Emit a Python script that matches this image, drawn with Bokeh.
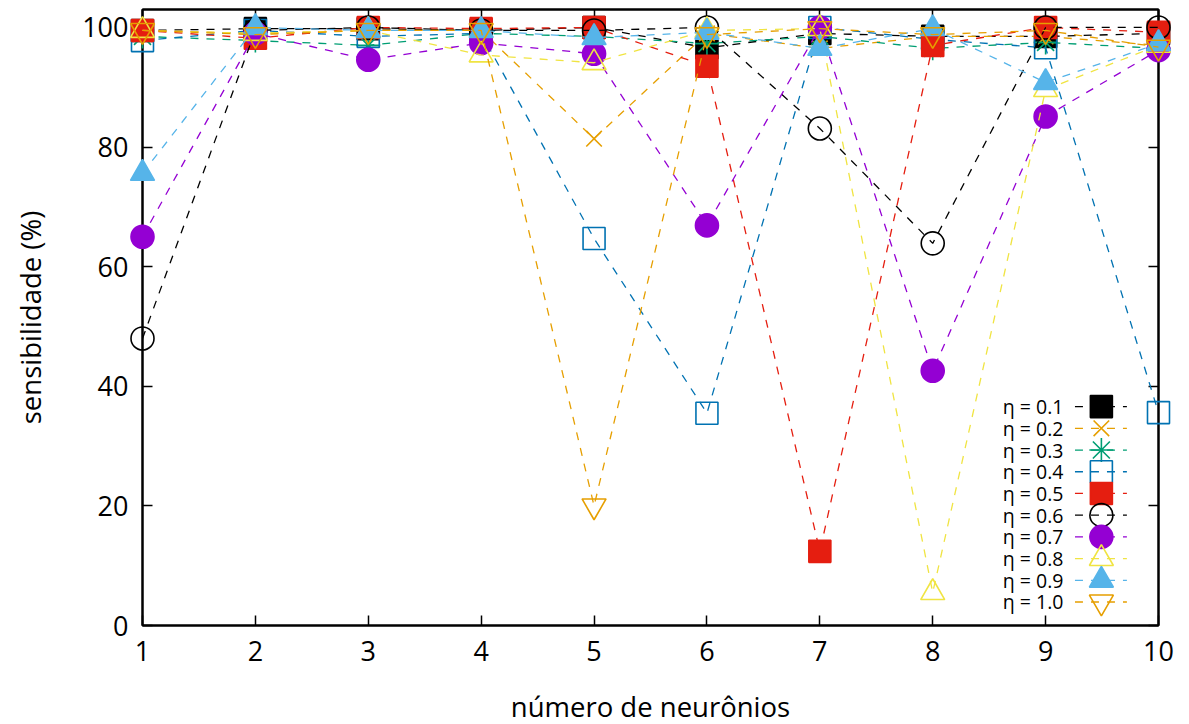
from bokeh.plotting import figure
from bokeh.models import LinearAxis, FixedTicker, Range1d
from bokeh.core.properties import value
from bokeh.embed import file_html
from bokeh.resources import INLINE

neurons = [1, 2, 3, 4, 5, 6, 7, 8, 9, 10]
labels = ["η = 0.1", "η = 0.2", "η = 0.3", "η = 0.4", "η = 0.5",
          "η = 0.6", "η = 0.7", "η = 0.8", "η = 0.9", "η = 1.0"]
eta_01 = [99.5, 99.8, 99.8, 99.5, 100.0, 96.6, 99.0, 98.5, 98.5, 99.0]
eta_02 = [99.5, 99.0, 99.5, 99.5, 81.4, 99.0, 96.5, 98.5, 98.5, 97.0]
eta_03 = [98.5, 97.8, 97.0, 99.0, 98.5, 97.3, 98.5, 96.5, 97.5, 96.5]
eta_04 = [97.8, 99.5, 98.5, 99.0, 64.7, 35.5, 100.0, 98.0, 96.6, 35.6]
eta_05 = [99.5, 98.2, 100.0, 99.8, 100.0, 93.5, 12.4, 97.0, 100.0, 99.2]
eta_06 = [48.0, 99.5, 100.0, 99.5, 99.5, 100.0, 83.1, 63.9, 100.0, 100.0]
eta_07 = [65.0, 99.0, 94.6, 97.4, 95.6, 66.9, 100.0, 42.6, 85.1, 96.2]
eta_08 = [99.5, 99.0, 99.5, 95.4, 94.1, 99.5, 99.8, 5.5, 89.6, 97.0]
eta_09 = [75.6, 100.0, 99.5, 99.5, 98.3, 99.2, 96.5, 99.8, 90.8, 97.3]
eta_10 = [99.5, 98.8, 99.5, 99.5, 20.0, 98.8, 99.8, 98.8, 99.5, 96.7]
series = [eta_01, eta_02, eta_03, eta_04, eta_05, eta_06, eta_07, eta_08, eta_09, eta_10]
y_ticks = [0, 20, 40, 60, 80, 100]

colors = ["#000000", "#E69F00", "#009E73", "#0072B2", "#E51E10",
          "#000000", "#9400D3", "#F0E442", "#56B4E9", "#E69F00"]
markers = ["square", "x", "asterisk", "square", "square",
           "circle", "circle", "triangle", "triangle", "inverted_triangle"]
filled = [True, False, False, False, True, False, True, False, True, False]
sizes = [22, 22, 24, 22, 22, 23, 23, 24, 24, 24]

FONT = "Open Sans"

p = figure(frame_width=1016, frame_height=616,
           min_border_left=142, min_border_right=31, min_border_top=9, min_border_bottom=99,
           x_range=Range1d(1, 10), y_range=Range1d(0, 103),
           output_backend="svg", toolbar_location=None,
           background_fill_color="white", border_fill_color="white")
p.grid.visible = False
p.outline_line_color = "black"
p.outline_line_width = 2

for ax in (p.xaxis[0], p.yaxis[0]):
    ax.major_tick_in = 10
    ax.major_tick_out = 0
    ax.minor_tick_line_color = None
    ax.axis_line_color = "black"
    ax.axis_line_width = 2
    ax.major_tick_line_width = 1.5
    ax.major_label_text_font = FONT
    ax.major_label_text_font_size = "27px"
    ax.major_label_text_color = "black"
    ax.axis_label_text_font = FONT
    ax.axis_label_text_font_size = "27.5px"
    ax.axis_label_text_font_style = "normal"
    ax.axis_label_text_color = "black"

p.xaxis.ticker = FixedTicker(ticks=neurons)
p.yaxis.ticker = FixedTicker(ticks=y_ticks)
p.xaxis.axis_label = "número de neurônios"
p.yaxis.axis_label = "sensibilidade (%)"
p.xaxis.major_label_standoff = 15
p.yaxis.major_label_standoff = 14
p.xaxis.axis_label_standoff = 24
p.yaxis.axis_label_standoff = 30

top_ax = LinearAxis(ticker=FixedTicker(ticks=neurons), major_label_text_color=None,
                    major_label_text_font_size="10px",
                    major_tick_in=10, major_tick_out=0, minor_tick_line_color=None,
                    major_tick_line_width=1.5, axis_line_width=2, major_label_standoff=0)
right_ax = LinearAxis(ticker=FixedTicker(ticks=y_ticks), major_label_text_color=None,
                      major_label_text_font_size="10px",
                      major_tick_in=10, major_tick_out=0, minor_tick_line_color=None,
                      major_tick_line_width=1.5, axis_line_width=2, major_label_standoff=0)
p.add_layout(top_ax, "above")
p.add_layout(right_ax, "right")

for vals, c, m, f, s in zip(series, colors, markers, filled, sizes):
    p.line(neurons, vals, line_color=c, line_width=1.3, line_dash="8 8", level="overlay")
    p.scatter(neurons, vals, marker=m, size=s, line_color=c, line_width=1.6,
              fill_color=c if f else None, level="overlay")

# key (gnuplot style: label, then sample line with marker)
key_text_x = 9.158
key_line_x0, key_line_x1 = 9.26, 9.72
key_mark_x = 9.494
key_top = 36.6
key_step = 3.63
for i, (lab, c, m, f, s) in enumerate(zip(labels, colors, markers, filled, sizes)):
    yy = key_top - i * key_step
    p.text([key_text_x], [yy], text=[lab], text_align="right", text_baseline="middle",
           text_font=value(FONT), text_font_size="19.5px", text_color="black", level="overlay")
    p.line([key_line_x0, key_line_x1], [yy, yy], line_color=c, line_width=1.3,
           line_dash="8 8", level="overlay")
    p.scatter([key_mark_x], [yy], marker=m, size=s, line_color=c, line_width=1.6,
              fill_color=c if f else None, level="overlay")

open("out.html", "w").write(file_html(p, INLINE))
